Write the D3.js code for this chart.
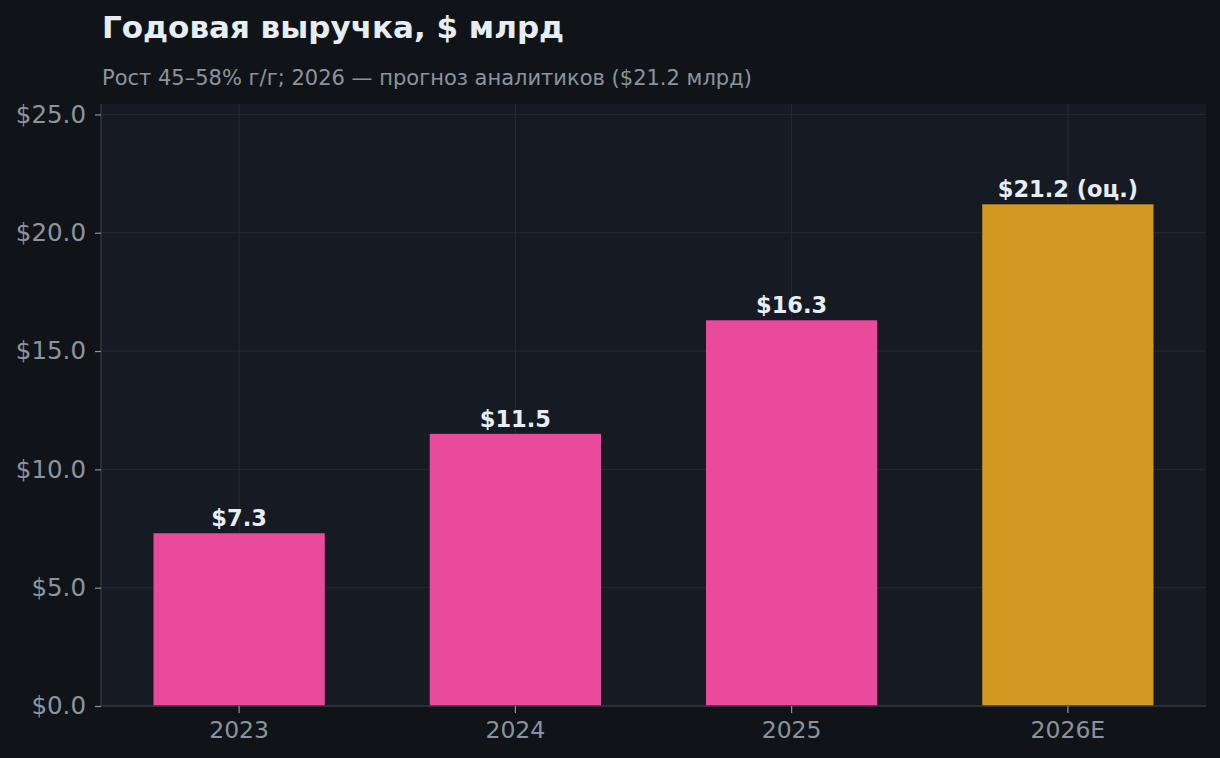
<!DOCTYPE html>
<html>
<head>
	<meta charset="utf-8">
	<title>Годовая выручка</title>
	<script src="https://cdn.jsdelivr.net/npm/d3@7"></script>
	<style>
		html, body { margin: 0; padding: 0; background: #101418; }
		svg { display: block; }
	</style>
</head>
<body>
	<div id="chart"></div>
	<script>

	// data
	const years  = ["2023", "2024", "2025", "2026E"];
	const values = [7.3, 11.5, 16.3, 21.2];
	const labels = ["$7.3", "$11.5", "$16.3", "$21.2 (оц.)"];
	const yTicks = [0, 5, 10, 15, 20, 25];

	const title    = "Годовая выручка, $ млрд";
	const subtitle = "Рост 45–58% г/г; 2026 — прогноз аналитиков ($21.2 млрд)";

	// look
	const width  = 1220;
	const height = 758;
	const margin = {top: 104, right: 14, bottom: 52, left: 101};
	const font   = "'DejaVu Sans', sans-serif";
	const colors = {pink: "#ea4a9c", gold: "#d29922", text: "#e6edf3", muted: "#8b949e",
		grid: "#252a33", spine: "#30363d", plot: "#161a22"};

	const svg = d3.select("#chart").append("svg")
		.attr("width", width)
		.attr("height", height)
		.attr("font-family", font);

	const x = d3.scaleBand()
		.domain(years)
		.range([margin.left, width - margin.right])
		.paddingInner(0.38)
		.paddingOuter(0.19);

	const y = d3.scaleLinear()
		.domain([0, d3.max(values) * 1.2])
		.range([height - margin.bottom, margin.top]);

	// plot background
	svg.append("rect")
		.attr("x", margin.left)
		.attr("y", margin.top)
		.attr("width", width - margin.left - margin.right)
		.attr("height", height - margin.top - margin.bottom)
		.attr("fill", colors.plot);

	// grid
	svg.append("g")
		.selectAll("line")
		.data(yTicks)
		.join("line")
		.attr("x1", margin.left)
		.attr("x2", width - margin.right)
		.attr("y1", d => y(d))
		.attr("y2", d => y(d))
		.attr("stroke", colors.grid)
		.attr("stroke-width", 1);

	svg.append("g")
		.selectAll("line")
		.data(years)
		.join("line")
		.attr("x1", d => x(d) + x.bandwidth() / 2)
		.attr("x2", d => x(d) + x.bandwidth() / 2)
		.attr("y1", margin.top)
		.attr("y2", height - margin.bottom)
		.attr("stroke", colors.grid)
		.attr("stroke-width", 1);

	// bars
	svg.append("g")
		.selectAll("rect")
		.data(values)
		.join("rect")
		.attr("x", (d, i) => x(years[i]))
		.attr("y", d => y(d))
		.attr("width", x.bandwidth())
		.attr("height", d => y(0) - y(d))
		.attr("fill", (d, i) => i === values.length - 1 ? colors.gold : colors.pink);

	// value labels
	svg.append("g")
		.selectAll("text")
		.data(values)
		.join("text")
		.attr("x", (d, i) => x(years[i]) + x.bandwidth() / 2)
		.attr("y", d => y(d) - 7)
		.attr("text-anchor", "middle")
		.attr("fill", colors.text)
		.attr("font-size", 22.5)
		.attr("font-weight", "bold")
		.text((d, i) => labels[i]);

	// axes
	const xAxis = svg.append("g")
		.attr("transform", `translate(0,${height - margin.bottom})`)
		.call(d3.axisBottom(x).tickSize(7).tickPadding(8));

	const yAxis = svg.append("g")
		.attr("transform", `translate(${margin.left},0)`)
		.call(d3.axisLeft(y).tickValues(yTicks).tickSize(6).tickPadding(9)
			.tickFormat(d => "$" + d3.format(".1f")(d)));

	[xAxis, yAxis].forEach(g => {
		g.attr("font-family", font).attr("font-size", 23.5);
		g.select(".domain").attr("stroke", colors.spine).attr("stroke-width", 1.5);
		g.selectAll(".tick line").attr("stroke", colors.muted).attr("stroke-width", 1.2);
		g.selectAll(".tick text").attr("fill", colors.muted);
	});
	yAxis.attr("font-size", 24.5);
	xAxis.select(".domain").attr("d", `M${margin.left},0H${width - margin.right}`);
	yAxis.select(".domain").attr("d", `M0,${height - margin.bottom}V${margin.top}`);

	// titles
	svg.append("text")
		.attr("x", 102)
		.attr("y", 38)
		.attr("fill", colors.text)
		.attr("font-size", 31)
		.attr("font-weight", "bold")
		.text(title);

	svg.append("text")
		.attr("x", 102)
		.attr("y", 85)
		.attr("fill", colors.muted)
		.attr("font-size", 21)
		.text(subtitle);

	</script>
</body>
</html>
